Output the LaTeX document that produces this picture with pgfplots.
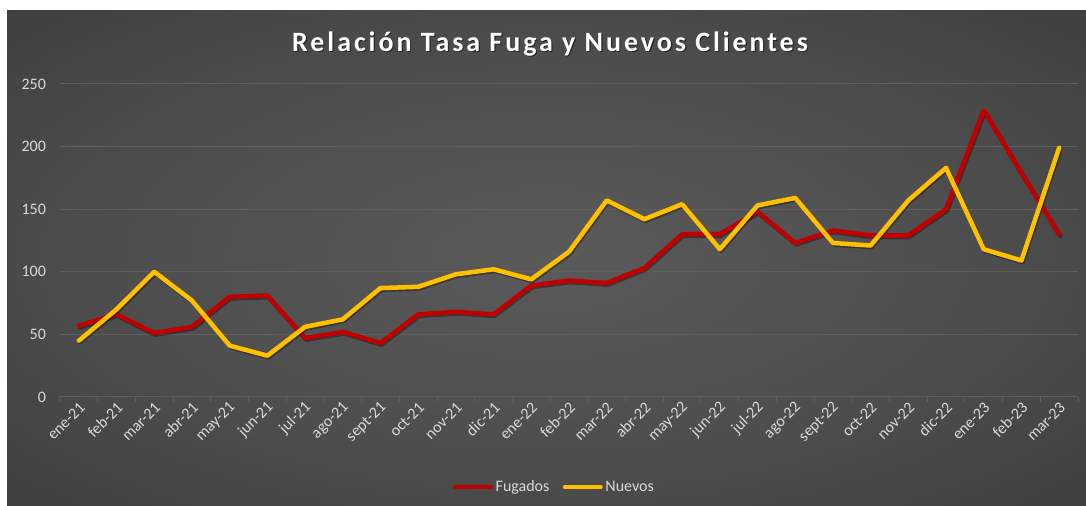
\documentclass[border=0pt]{standalone}
\usepackage{pgfplots}
\pgfplotsset{compat=1.18}
\usepackage{fontspec}
\setmainfont{Carlito}
\newfontfamily\titlefont[LetterSpace=10.5]{Carlito}
\definecolor{bgc}{HTML}{5A5A5A}
\definecolor{bgm}{HTML}{4C4C4C}
\definecolor{bgo}{HTML}{363636}
\definecolor{bge}{HTML}{262626}
\definecolor{gridc}{HTML}{5E5E5E}
\definecolor{labc}{HTML}{D9D9D9}
\definecolor{fug}{HTML}{C00000}
\definecolor{nue}{HTML}{FFC000}
\pgfdeclareradialshading{bgshade}{\pgfpoint{0bp}{0bp}}{color(0bp)=(bgc); color(22bp)=(bgm); color(45bp)=(bgo); color(71bp)=(bge); color(100bp)=(bge)}
\pgfplotstableread{
x F N
0 57 45
1 66 70
2 51 100
3 56 77
4 80 41
5 81 33
6 47 56
7 52 62
8 43 87
9 66 88
10 68 98
11 66 102
12 89 94
13 93 116
14 91 157
15 103 142
16 130 154
17 130 118
18 148 153
19 123 159
20 133 123
21 129 121
22 129 157
23 150 183
24 229 118
25 179 109
26 130 199
}\datatable
\begin{document}
\begin{tikzpicture}
\useasboundingbox (0,0) rectangle (814.5pt,379.5pt);
\fill[white] (0,0) rectangle (814.5pt,379.5pt);
\shade[shading=bgshade] (5.25pt,0) rectangle (814.5pt,371.25pt);
\node[text=black, opacity=0.5] at (413.4pt,345.6pt) {\titlefont\fontsize{21}{25}\selectfont\bfseries Relación Tasa Fuga y Nuevos Clientes};
\node[text=white] at (412.5pt,346.5pt) {\titlefont\fontsize{21}{25}\selectfont\bfseries Relación Tasa Fuga y Nuevos Clientes};
\begin{axis}[
  at={(45pt,81.75pt)}, anchor=south west,
  scale only axis, width=763.5pt, height=234.75pt,
  xmin=-0.5, xmax=26.5, ymin=0, ymax=250,
  ytick={0,50,...,250},
  xtick={0,...,26},
  xticklabels={ene-21,feb-21,mar-21,abr-21,may-21,jun-21,jul-21,ago-21,sept-21,oct-21,nov-21,dic-21,ene-22,feb-22,mar-22,abr-22,may-22,jun-22,jul-22,ago-22,sept-22,oct-22,nov-22,dic-22,ene-23,feb-23,mar-23},
  minor xtick={-0.5,0.5,...,26.5},
  major tick length=0pt,
  minor tick length=4pt,
  tick align=outside,
  tick pos=left,
  axis line style={draw=none},
  axis x line*=bottom,
  axis y line*=left,
  ymajorgrids,
  grid style={gridc, line width=0.75pt},
  minor x tick style={gridc, line width=0.75pt},
  /pgf/number format/assume math mode=true,
  tick label style={font=\fontsize{12}{14}\selectfont, text=labc},
  y tick label style={xshift=-7pt},
  x tick label style={rotate=45, anchor=east, yshift=-6pt, xshift=1pt},
  legend columns=2,
  legend style={at={(0.486,-0.2875)}, anchor=center, draw=none, fill=none, text=labc, font=\fontsize{12}{14}\selectfont, /tikz/every even column/.append style={column sep=8pt}},
  legend image code/.code={\draw[#1, line width=3pt] (0cm,0cm) -- (0.95cm,0cm);},
  legend cell align=left,
]
\draw[gridc, line width=0.75pt] (axis cs:-0.5,0) -- (axis cs:26.5,0);
\addplot[black, opacity=0.35, line width=3.4pt, line join=round, line cap=round, forget plot, shift={(0.8pt,-1.2pt)}] table[x=x,y=F] {\datatable};
\addplot[fug, line width=3.4pt, line join=round, line cap=round] table[x=x,y=F] {\datatable};
\addplot[black, opacity=0.35, line width=3.4pt, line join=round, line cap=round, forget plot, shift={(0.8pt,-1.2pt)}] table[x=x,y=N] {\datatable};
\addplot[nue, line width=3.4pt, line join=round, line cap=round] table[x=x,y=N] {\datatable};
\legend{Fugados,Nuevos}
\end{axis}
\end{tikzpicture}
\end{document}
